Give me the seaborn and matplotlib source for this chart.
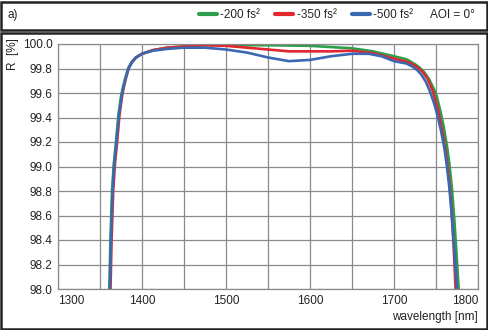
import matplotlib
matplotlib.use("Agg")
import matplotlib.pyplot as plt
from matplotlib.patches import Rectangle
from matplotlib.lines import Line2D
import seaborn as sns
import pandas as pd

wl_green = [1355, 1361.1, 1362.4, 1364.3, 1366.4, 1369, 1371.9, 1375.2, 1377.4, 1380.4, 1383.4,
            1387.4, 1392.4, 1400, 1413, 1430, 1450, 1475, 1500, 1550, 1600, 1625, 1650, 1675,
            1700, 1715, 1725, 1730, 1736, 1742, 1747, 1751, 1755, 1759, 1763, 1766, 1769, 1772,
            1774.5, 1777, 1779]
r_green = [97.5, 98.0, 98.4, 98.8, 99.02, 99.2, 99.42, 99.58, 99.65, 99.73, 99.8,
           99.85, 99.89, 99.92, 99.95, 99.97, 99.98, 99.99, 99.99, 99.99, 99.985, 99.975, 99.965, 99.94,
           99.90, 99.875, 99.835, 99.81, 99.77, 99.71, 99.64, 99.57, 99.46, 99.33, 99.17, 99.02, 98.82, 98.55,
           98.28, 98.0, 97.75]

wl_red = [1356, 1362.5, 1363.8, 1365.7, 1367.8, 1370.4, 1373.2, 1376.4, 1378.4, 1381.2, 1384,
          1388, 1393, 1400, 1413, 1430, 1450, 1475, 1500, 1525, 1550, 1575, 1600, 1625, 1650, 1675,
          1700, 1715, 1722, 1730, 1735, 1740, 1746, 1751, 1755, 1759, 1762, 1765, 1768, 1771, 1773, 1775]
r_red = [97.5, 98.0, 98.4, 98.8, 99.02, 99.2, 99.42, 99.58, 99.65, 99.73, 99.8,
         99.85, 99.89, 99.92, 99.95, 99.97, 99.98, 99.99, 99.985, 99.97, 99.955, 99.94, 99.94, 99.94, 99.945, 99.925,
         99.88, 99.855, 99.835, 99.8, 99.765, 99.715, 99.62, 99.5, 99.38, 99.23, 99.1, 98.93, 98.7, 98.35, 98.05, 97.75]

wl_blue = [1355.5, 1361.7, 1363, 1364.9, 1367, 1369.6, 1372.5, 1375.8, 1378, 1381, 1384,
           1388, 1393, 1400, 1413, 1430, 1450, 1475, 1500, 1525, 1550, 1575, 1600, 1625, 1650, 1670,
           1685, 1700, 1715, 1722, 1728, 1733, 1738, 1743, 1748, 1752, 1756, 1760, 1763, 1766, 1769,
           1772, 1775, 1777]
r_blue = [97.5, 98.0, 98.4, 98.8, 99.02, 99.2, 99.42, 99.58, 99.65, 99.73, 99.8,
          99.85, 99.89, 99.92, 99.945, 99.96, 99.97, 99.97, 99.955, 99.93, 99.89, 99.86, 99.87, 99.9, 99.92, 99.92,
          99.9, 99.86, 99.84, 99.815, 99.785, 99.745, 99.69, 99.61, 99.51, 99.41, 99.29, 99.15, 99.0, 98.82, 98.58,
          98.3, 98.0, 97.8]

labels = ["-200 fs²", "-350 fs²", "-500 fs²"]
colors = ["#2e9e4a", "#e2262f", "#3a68b1"]
xticks = [1300, 1400, 1500, 1600, 1700, 1800]
yticks = [98.0, 98.2, 98.4, 98.6, 98.8, 99.0, 99.2, 99.4, 99.6, 99.8, 100.0]

df = pd.concat([
    pd.DataFrame({"wl": wl_green, "R": r_green, "gdd": labels[0]}),
    pd.DataFrame({"wl": wl_red, "R": r_red, "gdd": labels[1]}),
    pd.DataFrame({"wl": wl_blue, "R": r_blue, "gdd": labels[2]}),
])

sns.set_style("white")
plt.rcParams['font.family'] = ['Liberation Sans', 'DejaVu Sans']

W, H = 489, 330
fig = plt.figure(figsize=(W / 100, H / 100), dpi=100)
ax = fig.add_axes([58 / W, 1 - 289 / H, 420 / W, 245 / H])

sns.lineplot(data=df, x="wl", y="R", hue="gdd", palette=colors, estimator=None,
             linewidth=1.9, legend=False, ax=ax)

ax.set_xlim(1300, 1800)
ax.set_ylim(98.0, 100.0)
ax.set_xticks(xticks)
ax.set_yticks(yticks)
ax.set_xticks(range(1350, 1800, 100), minor=True)
ax.set_yticklabels([f"{v:.1f}" for v in yticks], fontsize=8.5, color="#222222")
ax.set_xticklabels([str(v) for v in xticks], fontsize=8.5, color="#222222")
xl = ax.get_xticklabels()
xl[0].set_ha("left")
xl[-1].set_ha("right")
ax.tick_params(axis="both", which="both", length=0, pad=4)
ax.grid(True, which="both", color="#8a8a8a", linewidth=0.9)
for s in ax.spines.values():
    s.set_color("#8a8a8a")
    s.set_linewidth(0.9)
ax.set_xlabel("")
ax.set_ylabel("")

fig.text(478 / W, 1 - 317 / H, "wavelength [nm]", ha="right", va="center", fontsize=8.5, color="#222222")
fig.text(13 / W, 1 - 54 / H, "R  [%]", rotation=90, ha="center", va="center", fontsize=8.5, color="#222222")

# header box and plot frame
fig.patches.append(Rectangle((1.5 / W, 1 - 29.5 / H), 486 / W, 28 / H, transform=fig.transFigure,
                             fill=False, edgecolor="#222222", linewidth=1.8))
fig.patches.append(Rectangle((1.5 / W, 1 - 328.5 / H), 486 / W, 295.5 / H, transform=fig.transFigure,
                             fill=False, edgecolor="#222222", linewidth=1.8))

fig.text(8 / W, 1 - 15 / H, "a)", ha="left", va="center", fontsize=8.5, color="#222222")
handles = [Line2D([], [], color=c, linewidth=3) for c in colors]
fig.legend(handles, labels, loc="center left", bbox_to_anchor=(199 / W, 1 - 15 / H), ncol=3,
           frameon=False, fontsize=8.5, handlelength=1.5, handletextpad=0.3, columnspacing=1.3,
           borderaxespad=0, borderpad=0)
fig.text(430 / W, 1 - 15 / H, "AOI = 0°", ha="left", va="center", fontsize=8.5, color="#222222")

fig.savefig("out.png", dpi=100)
